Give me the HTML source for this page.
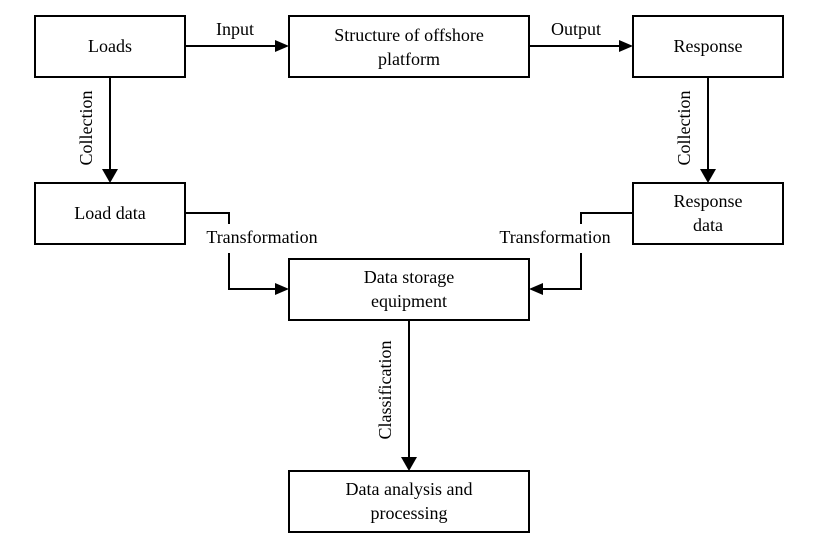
<!DOCTYPE html>
<html><head><meta charset="utf-8"><style>
body{margin:0;background:#fff}
svg{display:block}
text{font-family:"Liberation Serif",serif;font-size:18px;fill:#000}
</style></head><body>
<svg width="831" height="545" viewBox="0 0 831 545">
<defs><marker id="a" markerWidth="10" markerHeight="10" refX="9" refY="5" orient="auto" markerUnits="userSpaceOnUse"><path d="M0,0 L14,5 L0,10Z" transform="scale(0.72,1) translate(-1,0)"/></marker></defs>
<g fill="none" stroke="#000" stroke-width="2">
<rect x="35" y="16" width="150" height="61"/>
<rect x="289" y="16" width="240" height="61"/>
<rect x="633" y="16" width="150" height="61"/>
<rect x="35" y="183" width="150" height="61"/>
<rect x="633" y="183" width="150" height="61"/>
<rect x="289" y="259" width="240" height="61"/>
<rect x="289" y="471" width="240" height="61"/>
<path d="M185 46H275"/><path d="M529 46H619"/>
<path d="M110 77V169"/><path d="M708 77V169"/>
<path d="M409 320V457"/>
<path d="M185 213H229V224M229 253V289H275"/>
<path d="M633 213H581V224M581 253V289H543"/>
</g>
<g fill="#000">
<path d="M275 40L289 46L275 52Z"/><path d="M619 40L633 46L619 52Z"/>
<path d="M102 169L110 183L118 169Z"/><path d="M700 169L708 183L716 169Z"/>
<path d="M401 457L409 471L417 457Z"/>
<path d="M275 283L289 289L275 295Z"/><path d="M543 283L529 289L543 295Z"/>
</g>
<g text-anchor="middle">
<text x="110" y="52">Loads</text>
<text x="409" y="41">Structure of offshore</text>
<text x="409" y="65">platform</text>
<text x="708" y="52">Response</text>
<text x="110" y="219">Load data</text>
<text x="708" y="207">Response</text>
<text x="708" y="231">data</text>
<text x="409" y="283">Data storage</text>
<text x="409" y="307">equipment</text>
<text x="409" y="495">Data analysis and</text>
<text x="409" y="519">processing</text>
<text x="235" y="35">Input</text>
<text x="576" y="35">Output</text>
<text x="262" y="243">Transformation</text>
<text x="555" y="243">Transformation</text>
<text transform="translate(92,128) rotate(-90)">Collection</text>
<text transform="translate(690,128) rotate(-90)">Collection</text>
<text transform="translate(391,390) rotate(-90)">Classification</text>
</g>
</svg>
</body></html>
